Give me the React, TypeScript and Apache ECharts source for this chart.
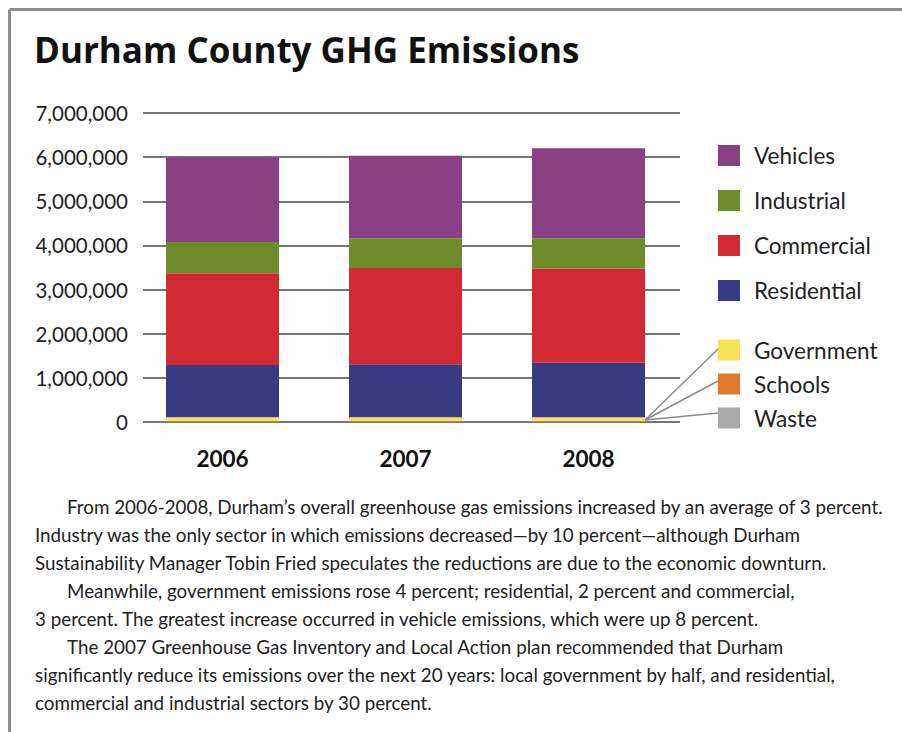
import React, { useEffect, useRef } from "react";
import * as echarts from "echarts";

const years = ["2006", "2007", "2008"];
const waste = [10000, 10000, 10000];
const schools = [15000, 15000, 16000];
const government = [80000, 82000, 84000];
const residential = [1185000, 1203000, 1230000];
const commercial = [2080000, 2180000, 2140000];
const industrial = [710000, 670000, 680000];
const vehicles = [1920000, 1870000, 2040000];

const yMin = 0;
const yMax = 7000000;
const yStep = 1000000;

const titleText = "Durham County GHG Emissions";
const paragraphLines = [
  { text: "From 2006-2008, Durham\u2019s overall greenhouse gas emissions increased by an average of 3 percent.", indent: true },
  { text: "Industry was the only sector in which emissions decreased\u2014by 10 percent\u2014although Durham", indent: false },
  { text: "Sustainability Manager Tobin Fried speculates the reductions are due to the economic downturn.", indent: false },
  { text: "Meanwhile, government emissions rose 4 percent; residential, 2 percent and commercial,", indent: true },
  { text: "3 percent. The greatest increase occurred in vehicle emissions, which were up 8 percent.", indent: false },
  { text: "The 2007 Greenhouse Gas Inventory and Local Action plan recommended that Durham", indent: true },
  { text: "significantly reduce its emissions over the next 20 years: local government by half, and residential,", indent: false },
  { text: "commercial and industrial sectors by 30 percent.", indent: false },
];

const seriesDefs = [
  { name: "Waste", data: waste, color: "#a9a9a9" },
  { name: "Schools", data: schools, color: "#e07a2a" },
  { name: "Government", data: government, color: "#f7e35a" },
  { name: "Residential", data: residential, color: "#383b84" },
  { name: "Commercial", data: commercial, color: "#d12a33" },
  { name: "Industrial", data: industrial, color: "#6e8c2c" },
  { name: "Vehicles", data: vehicles, color: "#8a4183" },
];

const topLegend = ["Vehicles", "Industrial", "Commercial", "Residential"];
const bottomLegend = ["Government", "Schools", "Waste"];

const FONT = "Lato, 'Open Sans', sans-serif";
const TITLE_FONT = "'Open Sans', Lato, sans-serif";
const BAR_WIDTH = 113;
const ICON_LEFT = 718;
const LEGEND1_TOP = 144;
const LEGEND1_STEP = 43;
const LEGEND2_TOP = 338.5;
const LEGEND2_STEP = 32;

export default function App() {
  const ref = useRef<HTMLDivElement>(null);

  useEffect(() => {
    if (!ref.current) return;
    const chart = echarts.init(ref.current, undefined, { renderer: "svg" });
    const gridTop = 113;
    const gridHeight = 309;
    const legendText = { fontFamily: FONT, fontSize: 22.5, color: "#222", padding: [0, 0, 0, 9] };

    chart.setOption({
      animation: false,
      backgroundColor: "#ffffff",
      textStyle: { fontFamily: FONT },
      title: {
        text: titleText,
        left: 29,
        top: 27,
        textStyle: { fontFamily: TITLE_FONT, fontSize: 35, fontWeight: "bold", color: "#111" },
      },
      grid: [
        { left: 143, top: gridTop, width: 537, height: gridHeight },
        { left: 131, top: gridTop, width: 549, height: gridHeight },
      ],
      legend: [
        {
          data: topLegend,
          orient: "vertical",
          left: ICON_LEFT - 5,
          top: LEGEND1_TOP - 5,
          itemWidth: 22,
          itemHeight: 21,
          itemGap: LEGEND1_STEP - 21,
          icon: "rect",
          textStyle: { ...legendText, lineHeight: 21 },
        },
        {
          data: bottomLegend,
          orient: "vertical",
          left: ICON_LEFT - 5,
          top: LEGEND2_TOP - 5,
          itemWidth: 22,
          itemHeight: 21,
          itemGap: LEGEND2_STEP - 21,
          icon: "rect",
          textStyle: { ...legendText, lineHeight: 21 },
        },
      ],
      xAxis: [
        { type: "category", gridIndex: 0, data: years, show: false },
        {
          type: "category",
          gridIndex: 1,
          data: years,
          axisLine: { show: false },
          axisTick: { show: false },
          axisLabel: { fontFamily: FONT, fontSize: 22.5, fontWeight: "bold", color: "#111", margin: 25 },
        },
      ],
      yAxis: [
        {
          type: "value",
          gridIndex: 0,
          min: yMin,
          max: yMax,
          interval: yStep,
          axisLine: { show: false },
          axisTick: { show: false },
          axisLabel: {
            fontFamily: FONT,
            fontSize: 20.5,
            color: "#222",
            margin: 15,
            formatter: (v: number) => v.toLocaleString("en-US"),
          },
          splitLine: { lineStyle: { color: "#767676", width: 2 } },
        },
        { type: "value", gridIndex: 1, min: yMin, max: yMax, show: false },
      ],
      series: seriesDefs.map((s) => ({
        name: s.name,
        type: "bar",
        stack: "total",
        xAxisIndex: 1,
        yAxisIndex: 1,
        barWidth: BAR_WIDTH,
        data: s.data,
        itemStyle: { color: s.color },
        emphasis: { disabled: true },
      })),
    });

    const base = chart.convertToPixel({ xAxisIndex: 1, yAxisIndex: 1 }, [2, 0]) as number[];
    const sx = base[0] + BAR_WIDTH / 2;
    const sy = base[1] - 2;

    const graphics: any[] = [
      { type: "line", shape: { x1: 9.5, y1: 9.5, x2: 902, y2: 9.5 }, style: { stroke: "#8e8e8e", lineWidth: 3 } },
      { type: "line", shape: { x1: 9.5, y1: 9.5, x2: 9.5, y2: 732 }, style: { stroke: "#8e8e8e", lineWidth: 3 } },
    ];
    bottomLegend.forEach((_, i) => {
      graphics.push({
        type: "line",
        z: 10,
        shape: { x1: sx, y1: sy, x2: ICON_LEFT, y2: LEGEND2_TOP + i * LEGEND2_STEP + 10.5 },
        style: { stroke: "#8c8c8c", lineWidth: 1.5 },
      });
    });
    paragraphLines.forEach((ln, i) => {
      graphics.push({
        type: "text",
        x: ln.indent ? 67 : 35,
        y: 506 + i * 28.1,
        style: {
          text: ln.text,
          fontFamily: FONT,
          fontSize: 18.8,
          fill: "#222",
          verticalAlign: "middle",
          align: "left",
        },
      });
    });
    chart.setOption({ graphic: graphics });

    return () => chart.dispose();
  }, []);

  return (
    <div
      ref={ref}
      style={{ position: "fixed", left: 0, top: 0, width: 902, height: 732, background: "#fff" }}
    />
  );
}
